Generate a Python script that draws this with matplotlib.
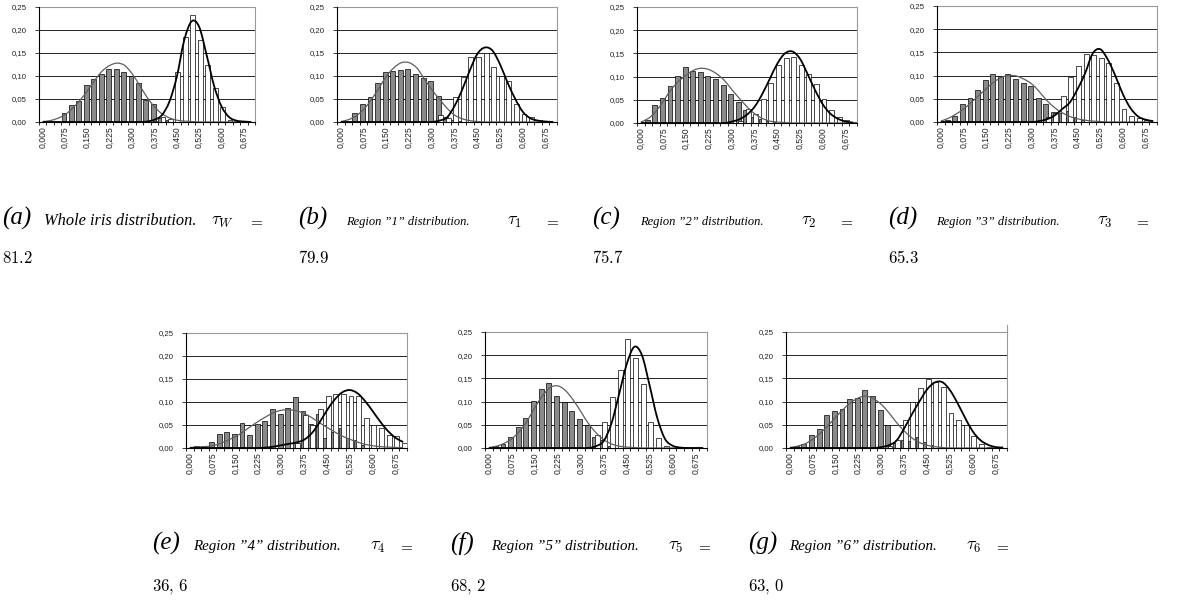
import numpy as np
import matplotlib
matplotlib.use("Agg")
import matplotlib.pyplot as plt
from matplotlib.path import Path
from matplotlib.patches import PathPatch
from matplotlib.lines import Line2D

plt.rcParams['mathtext.fontset'] = 'cm'

W, H = 1186, 601

# ---------------------------------------------------------------- axis labels
x_tick_labels = ['0,000', '0,075', '0,150', '0,225', '0,300',
                 '0,375', '0,450', '0,525', '0,600', '0,675']
y_ticks = [0.00, 0.05, 0.10, 0.15, 0.20, 0.25]
y_tick_labels = ['0,00', '0,05', '0,10', '0,15', '0,20', '0,25']
n_bins = 29  # bins 0,000 ... 0,700 in steps of 0,025

# ---------------------------------------------------------------- (a) whole iris
impostor_a = [0, 0, 0, 0.020, 0.038, 0.045, 0.080, 0.094, 0.105, 0.115, 0.116, 0.109, 0.100, 0.084,
              0.047, 0.039, 0.009, 0.004, 0, 0, 0, 0, 0, 0, 0, 0, 0, 0, 0]
genuine_a = [0, 0, 0, 0, 0, 0, 0, 0, 0, 0, 0, 0, 0, 0, 0, 0.003, 0.010, 0.007, 0.108, 0.185,
             0.232, 0.178, 0.125, 0.073, 0.032, 0.004, 0.002, 0, 0]
fit_imp_a = [0.001, 0.003, 0.008, 0.016, 0.030, 0.047, 0.068, 0.091, 0.111, 0.123, 0.128, 0.123, 0.105,
             0.080, 0.054, 0.033, 0.018, 0.009, 0.004, 0.002, 0.001, 0, 0, 0, 0, 0, 0, 0, 0]
fit_gen_a = [0, 0, 0, 0, 0, 0, 0, 0, 0, 0, 0, 0, 0, 0, 0.001, 0.005, 0.015, 0.044, 0.098, 0.178,
             0.219, 0.207, 0.146, 0.079, 0.034, 0.011, 0.003, 0.001, 0]

# ---------------------------------------------------------------- (b) region 1
impostor_b = [0, 0, 0.019, 0.039, 0.055, 0.084, 0.108, 0.111, 0.114, 0.116, 0.104, 0.095, 0.089, 0.056,
              0.011, 0.005, 0.003, 0, 0, 0, 0, 0, 0, 0, 0, 0, 0, 0, 0]
genuine_b = [0, 0, 0, 0, 0, 0, 0, 0, 0, 0, 0, 0, 0, 0.015, 0.009, 0.055, 0.097, 0.142, 0.142, 0.151,
             0.120, 0.100, 0.089, 0.039, 0.017, 0.010, 0.004, 0.001, 0]
fit_imp_b = [0.001, 0.005, 0.013, 0.027, 0.048, 0.073, 0.099, 0.118, 0.129, 0.129, 0.118, 0.094, 0.070,
             0.050, 0.030, 0.015, 0.007, 0.003, 0.001, 0, 0, 0, 0, 0, 0, 0, 0, 0, 0]
fit_gen_b = [0, 0, 0, 0, 0, 0, 0, 0, 0, 0, 0, 0, 0, 0.003, 0.010, 0.035, 0.070, 0.112, 0.148, 0.162,
             0.155, 0.125, 0.085, 0.050, 0.022, 0.008, 0.003, 0.001, 0]

# ---------------------------------------------------------------- (c) region 2
impostor_c = [0, 0.007, 0.038, 0.053, 0.079, 0.101, 0.121, 0.113, 0.110, 0.101, 0.095, 0.081, 0.062,
              0.045, 0.027, 0.013, 0.008, 0.005, 0.002, 0, 0, 0, 0, 0, 0, 0, 0, 0, 0]
genuine_c = [0, 0, 0, 0, 0, 0, 0, 0, 0, 0, 0, 0, 0, 0.005, 0.031, 0.020, 0.052, 0.087, 0.124, 0.140,
             0.143, 0.125, 0.106, 0.084, 0.052, 0.027, 0.012, 0.006, 0.003]
fit_imp_c = [0.002, 0.010, 0.025, 0.048, 0.072, 0.090, 0.103, 0.114, 0.118, 0.115, 0.106, 0.092, 0.072,
             0.053, 0.035, 0.020, 0.010, 0.004, 0.002, 0.001, 0, 0, 0, 0, 0, 0, 0, 0, 0]
fit_gen_c = [0, 0, 0, 0, 0, 0, 0, 0, 0, 0, 0, 0, 0.003, 0.008, 0.018, 0.035, 0.062, 0.095, 0.128, 0.150,
             0.154, 0.138, 0.105, 0.070, 0.040, 0.020, 0.009, 0.003, 0.001]

# ---------------------------------------------------------------- (d) region 3
impostor_d = [0, 0.004, 0.014, 0.039, 0.052, 0.069, 0.090, 0.103, 0.100, 0.103, 0.093, 0.083, 0.078,
              0.051, 0.038, 0.022, 0.020, 0.024, 0.010, 0.005, 0, 0, 0, 0, 0, 0, 0, 0, 0]
genuine_d = [0, 0, 0, 0, 0, 0, 0, 0, 0, 0, 0, 0, 0, 0, 0.010, 0.020, 0.057, 0.098, 0.120, 0.147,
             0.144, 0.139, 0.128, 0.085, 0.029, 0.013, 0.009, 0.004, 0]
fit_imp_d = [0.002, 0.008, 0.017, 0.028, 0.042, 0.057, 0.072, 0.086, 0.096, 0.100, 0.099, 0.092, 0.082,
             0.065, 0.046, 0.031, 0.020, 0.012, 0.007, 0.004, 0.002, 0.001, 0, 0, 0, 0, 0, 0, 0]
fit_gen_d = [0, 0, 0, 0, 0, 0, 0, 0, 0, 0, 0, 0, 0, 0.002, 0.006, 0.014, 0.028, 0.042, 0.070, 0.104,
             0.147, 0.157, 0.135, 0.100, 0.060, 0.030, 0.012, 0.005, 0.002]

# ---------------------------------------------------------------- (e) region 4
impostor_e = [0, 0.004, 0.005, 0.013, 0.030, 0.035, 0.030, 0.054, 0.029, 0.052, 0.058, 0.084, 0.073,
              0.088, 0.111, 0.080, 0.052, 0.073, 0.022, 0.034, 0.043, 0.022, 0.017, 0.006, 0, 0, 0, 0, 0]
genuine_e = [0, 0, 0, 0, 0, 0, 0, 0, 0, 0, 0, 0, 0, 0, 0.010, 0.072, 0.050, 0.084, 0.114, 0.118,
             0.117, 0.112, 0.112, 0.065, 0.050, 0.043, 0.028, 0.026, 0.010]
fit_imp_e = [0.001, 0.002, 0.003, 0.005, 0.010, 0.017, 0.025, 0.035, 0.047, 0.058, 0.068, 0.077, 0.082,
             0.083, 0.081, 0.075, 0.066, 0.055, 0.045, 0.035, 0.026, 0.019, 0.013, 0.008, 0.005, 0.003,
             0.002, 0.001, 0.001]
fit_gen_e = [0, 0, 0, 0, 0, 0, 0, 0, 0, 0, 0.001, 0.003, 0.006, 0.009, 0.012, 0.018, 0.032, 0.055,
             0.082, 0.105, 0.121, 0.126, 0.119, 0.102, 0.080, 0.057, 0.037, 0.022, 0.013]

# ---------------------------------------------------------------- (f) region 5
impostor_f = [0, 0.004, 0.009, 0.024, 0.045, 0.064, 0.101, 0.128, 0.141, 0.111, 0.100, 0.079, 0.063,
              0.050, 0.024, 0.018, 0.004, 0, 0, 0, 0, 0, 0, 0, 0, 0, 0, 0, 0]
genuine_f = [0, 0, 0, 0, 0, 0, 0, 0, 0, 0, 0, 0, 0, 0.003, 0.027, 0.055, 0.110, 0.168, 0.234, 0.193,
             0.139, 0.057, 0.021, 0.004, 0, 0, 0, 0, 0]
fit_imp_f = [0.001, 0.004, 0.010, 0.020, 0.036, 0.058, 0.087, 0.112, 0.130, 0.134, 0.124, 0.104, 0.079,
             0.053, 0.033, 0.018, 0.009, 0.004, 0.002, 0.001, 0, 0, 0, 0, 0, 0, 0, 0, 0]
fit_gen_f = [0, 0, 0, 0, 0, 0, 0, 0, 0, 0, 0, 0, 0, 0, 0.004, 0.015, 0.052, 0.115, 0.180, 0.218,
             0.200, 0.135, 0.065, 0.020, 0.005, 0.001, 0, 0, 0]

# ---------------------------------------------------------------- (g) region 6
impostor_g = [0, 0.004, 0.008, 0.027, 0.042, 0.072, 0.079, 0.085, 0.106, 0.108, 0.126, 0.111, 0.082,
              0.050, 0.011, 0.017, 0.015, 0.024, 0.012, 0.007, 0, 0, 0, 0, 0, 0, 0, 0, 0]
genuine_g = [0, 0, 0, 0, 0, 0, 0, 0, 0, 0, 0, 0, 0, 0.005, 0.018, 0.060, 0.099, 0.130, 0.149, 0.142,
             0.131, 0.076, 0.060, 0.050, 0.025, 0.008, 0.003, 0, 0]
fit_imp_g = [0.001, 0.004, 0.009, 0.019, 0.032, 0.048, 0.066, 0.083, 0.098, 0.108, 0.112, 0.106, 0.094,
             0.076, 0.055, 0.037, 0.022, 0.012, 0.006, 0.003, 0.001, 0, 0, 0, 0, 0, 0, 0, 0]
fit_gen_g = [0, 0, 0, 0, 0, 0, 0, 0, 0, 0, 0, 0, 0.002, 0.006, 0.016, 0.042, 0.072, 0.100, 0.126, 0.141,
             0.142, 0.125, 0.097, 0.065, 0.036, 0.017, 0.007, 0.002, 0.001]

# ---------------------------------------------------------------- captions
panel_letters = ['a', 'b', 'c', 'd', 'e', 'f', 'g']
panel_titles = ['Whole iris distribution.',
                'Region \u201d1\u201d distribution.',
                'Region \u201d2\u201d distribution.',
                'Region \u201d3\u201d distribution.',
                'Region \u201d4\u201d distribution.',
                'Region \u201d5\u201d distribution.',
                'Region \u201d6\u201d distribution.']
tau_names = ['W', '1', '2', '3', '4', '5', '6']
tau_values = ['81.2', '79.9', '75.7', '65.3', '36,\\,6', '68,\\,2', '63,\\,0']

panels = [
    (impostor_a, genuine_a, fit_imp_a, fit_gen_a),
    (impostor_b, genuine_b, fit_imp_b, fit_gen_b),
    (impostor_c, genuine_c, fit_imp_c, fit_gen_c),
    (impostor_d, genuine_d, fit_imp_d, fit_gen_d),
    (impostor_e, genuine_e, fit_imp_e, fit_gen_e),
    (impostor_f, genuine_f, fit_imp_f, fit_gen_f),
    (impostor_g, genuine_g, fit_imp_g, fit_gen_g),
]

# plot-area boxes in pixels: left, top, right, bottom
boxes = [(39, 7, 255, 122), (337, 7, 557, 122), (637, 7, 857, 123), (937, 6, 1157, 122),
         (186, 333, 407, 448), (485, 332, 707, 448), (786, 332, 1007, 448)]
# caption anchors: left x, caption baseline, value baseline
caption_pos = [(2, 225, 263), (298, 225, 263), (592, 225, 263), (888, 225, 263),
               (152, 550, 590), (450, 550, 590), (748, 550, 590)]

GRAY_BAR = '#8a8a8a'
TICK_FONT = 'Liberation Sans'
SERIF = 'Liberation Serif'


def smooth_path(xs, ys):
    """Bezier path running through every point (Catmull-Rom style smoothing)."""
    pts = np.column_stack([xs, ys]).astype(float)
    n = len(pts)
    verts = [pts[0]]
    codes = [Path.MOVETO]
    for i in range(n - 1):
        p0 = pts[i - 1] if i > 0 else pts[i]
        p1, p2 = pts[i], pts[i + 1]
        p3 = pts[i + 2] if i + 2 < n else pts[i + 1]
        verts += [p1 + (p2 - p0) / 6.0, p2 - (p3 - p1) / 6.0, p2]
        codes += [Path.CURVE4] * 3
    return Path(verts, codes)


fig = plt.figure(figsize=(W / 100, H / 100), dpi=100)
fig.patch.set_facecolor('white')

for (imp, gen, f_imp, f_gen), (l, t, r, b) in zip(panels, boxes):
    ax = fig.add_axes([l / W, 1 - b / H, (r - l) / W, (b - t) / H])
    idx = np.arange(n_bins)

    for yv in y_ticks[1:-1]:
        ax.axhline(yv, color='black', lw=0.6, zorder=1)

    ax.bar(idx - 0.15, imp, width=0.65, color=GRAY_BAR, edgecolor='black',
           linewidth=0.5, zorder=2)
    ax.bar(idx + 0.15, gen, width=0.65, color='white', edgecolor='black',
           linewidth=0.5, zorder=3)

    ax.add_patch(PathPatch(smooth_path(idx, f_imp), fill=False, edgecolor='#5e5e5e',
                           lw=0.9, zorder=4))
    ax.add_patch(PathPatch(smooth_path(idx, f_gen), fill=False, edgecolor='black',
                           lw=1.3, zorder=5))

    ax.set_xlim(-0.5, n_bins - 0.5)
    ax.set_ylim(0, 0.25)

    for side in ('left', 'bottom'):
        ax.spines[side].set_color('black')
        ax.spines[side].set_linewidth(0.8)
        ax.spines[side].set_zorder(6)
    for side in ('top', 'right'):
        ax.spines[side].set_color('#9a9a9a')
        ax.spines[side].set_linewidth(0.8)

    ax.set_yticks(y_ticks, labels=y_tick_labels)
    ax.tick_params(axis='y', direction='out', length=3, width=0.6, pad=6,
                   labelsize=5.6, colors='#222222')
    for lab in ax.get_yticklabels():
        lab.set_fontfamily(TICK_FONT)

    ax.set_xticks(np.arange(-0.5, n_bins, 1.0))
    ax.set_xticklabels([])
    ax.tick_params(axis='x', which='major', direction='out', length=2.5, width=0.6)
    ax.set_xticks(np.arange(0, n_bins - 1, 3), labels=x_tick_labels, minor=True)
    ax.tick_params(axis='x', which='minor', length=0, pad=3, labelsize=6.2,
                   labelrotation=90, colors='#222222')
    for lab in ax.get_xticklabels(minor=True):
        lab.set_fontfamily(TICK_FONT)

# the last panel's right frame runs a little above its plot area
l, t, r, b = boxes[6]
fig.add_artist(Line2D([r / W, r / W], [1 - t / H, 1 - 325 / H], color='#9a9a9a', lw=0.8))


def fx(x):
    return x / W


def fy(y):
    return 1 - y / H


for k, (x0, yb1, yb2) in enumerate(caption_pos):
    top_row = k < 4
    fig.text(fx(x0), fy(yb1), f'({panel_letters[k]})', fontsize=18, family=SERIF,
             style='italic', va='baseline')
    desc_size = 11.8 if k == 0 else (9 if top_row else 10.8)
    desc_off = 42 if k == 0 else (48 if top_row else 41)
    fig.text(fx(x0 + desc_off), fy(yb1), panel_titles[k], fontsize=desc_size, family=SERIF,
             style='italic', va='baseline')
    tau_off = 209 if top_row else 218
    fig.text(fx(x0 + tau_off), fy(yb1), rf'$\tau_{{{tau_names[k]}}}$', fontsize=13, va='baseline')
    fig.text(fx(x0 + 246), fy(yb1), r'$=$', fontsize=11, va='baseline')
    fig.text(fx(x0), fy(yb2), rf'${tau_values[k]}$', fontsize=12, va='baseline')

fig.savefig('out.png', dpi=100, facecolor='white')
